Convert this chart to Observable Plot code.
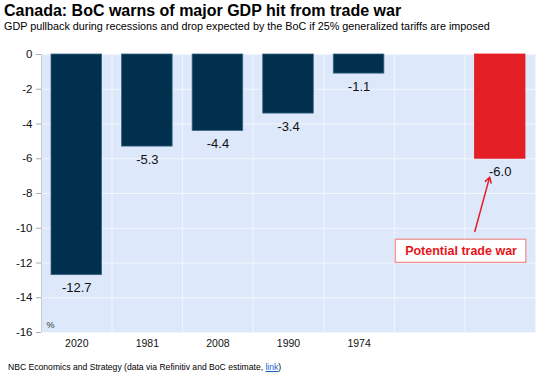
<!DOCTYPE html>
<html>
<head>
<meta charset="utf-8">
<script src="https://cdn.jsdelivr.net/npm/d3@7"></script>
<script src="https://cdn.jsdelivr.net/npm/@observablehq/plot@0.6"></script>
<style>
  body { margin: 0; background: #fff; font-family: "Liberation Sans", Arial, sans-serif; }
  #wrap { position: relative; width: 555px; height: 376px; overflow: hidden; }
  #title { position: absolute; left: 4px; top: 2px; font-size: 16px; font-weight: bold; color: #000; white-space: nowrap; }
  #subtitle { position: absolute; left: 4px; top: 20px; font-size: 10.8px; color: #000; white-space: nowrap; }
  #chart { position: absolute; left: 0; top: 34px; }
  #footer { position: absolute; left: 8px; top: 362px; font-size: 8.6px; color: #000; white-space: nowrap; }
  #footer a { color: #1a5fd0; text-decoration: underline; }
</style>
</head>
<body>
<div id="wrap">
  <div id="title">Canada: BoC warns of major GDP hit from trade war</div>
  <div id="subtitle">GDP pullback during recessions and drop expected by the BoC if 25% generalized tariffs are imposed</div>
  <div id="chart"></div>
  <div id="footer">NBC Economics and Strategy (data via Refinitiv and BoC estimate, <a>link</a>)</div>
</div>
<script>
// Data
const categories = ["2020", "1981", "2008", "1990", "1974", "", "Potential trade war"];
const tickLabels = ["2020", "1981", "2008", "1990", "1974", "", ""];
const values = [-12.7, -5.3, -4.4, -3.4, -1.1, null, -6.0];
const valueLabels = ["-12.7", "-5.3", "-4.4", "-3.4", "-1.1", "", "-6.0"];
const barColors = ["#00304e", "#00304e", "#00304e", "#00304e", "#00304e", "#00304e", "#e41e25"];
const yTicks = [0, -2, -4, -6, -8, -10, -12, -14, -16];

// Annotation (in data units)
const annotationText = "Potential trade war";
const arrowFrom = {x: 6.14, y: -10.19};
const arrowTo = {x: 6.35, y: -7.06};
const boxX = [5.02, 6.87];
const boxY = [-10.66, -11.99];

const data = categories.map((c, i) => ({
  cat: c, i, value: values[i], label: valueLabels[i], color: barColors[i]
})).filter(d => d.value != null);

const plot = Plot.plot({
  width: 555,
  height: 324,
  marginLeft: 41,
  marginRight: 20,
  marginTop: 20,
  marginBottom: 26,
  style: {fontFamily: "Liberation Sans, Arial, sans-serif", background: "transparent", overflow: "visible"},
  x: {type: "linear", domain: [0, categories.length], axis: null},
  y: {type: "linear", domain: [-16, 0], axis: null},
  marks: [
    Plot.frame({fill: "#dde8fa", stroke: null}),
    Plot.ruleY(yTicks, {y: d => d, stroke: "#f2f6fd", strokeWidth: 1}),
    Plot.ruleX(d3.range(0, categories.length + 1), {x: d => d, stroke: "#f2f6fd", strokeWidth: 1}),
    Plot.ruleX([0], {x: d => d, stroke: "#c8cdd6", strokeWidth: 1}),
    Plot.rectY(data, {
      x1: d => d.i, x2: d => d.i + 1, y1: () => 0, y2: "value",
      fill: "color", stroke: d => d.color === "#00304e" ? "#3e6586" : "#e41e25", strokeWidth: 0.8,
      insetLeft: 10, insetRight: 10
    }),
    Plot.text(data, {
      x: d => d.i + 0.5, y: "value", text: "label",
      dy: 13, fontSize: 13, fill: "#111", textAnchor: "middle"
    }),
    // y axis
    Plot.axisY(yTicks, {label: null, tickFormat: d => String(d), tickSize: 5, tickPadding: 4, fontSize: 11.5, stroke: "#aaa", fill: "#111"}),
    // x axis labels
    Plot.text(tickLabels.map((t, i) => ({t, i})), {
      x: d => d.i + 0.5, y: () => -16, text: "t", dy: 11, fontSize: 10.5, fill: "#111"
    }),
    Plot.text(["%"], {frameAnchor: "bottom-left", dx: 5, dy: -5, fontSize: 9, fill: "#333", textAnchor: "start"}),
    // annotation
    Plot.arrow([0], {
      x1: () => arrowFrom.x, y1: () => arrowFrom.y, x2: () => arrowTo.x, y2: () => arrowTo.y,
      stroke: "#e41e25", strokeWidth: 1.5, headLength: 6
    }),
    Plot.rect([0], {
      x1: () => boxX[0], x2: () => boxX[1], y1: () => boxY[0], y2: () => boxY[1],
      fill: "#fff", stroke: "#f08a8a", strokeWidth: 1.2
    }),
    Plot.text([annotationText], {
      x: () => (boxX[0] + boxX[1]) / 2, y: () => (boxY[0] + boxY[1]) / 2, text: d => d,
      fontSize: 12.5, fontWeight: "bold", fill: "#e8141b"
    })
  ]
});
document.getElementById("chart").appendChild(plot);
</script>
</body>
</html>
